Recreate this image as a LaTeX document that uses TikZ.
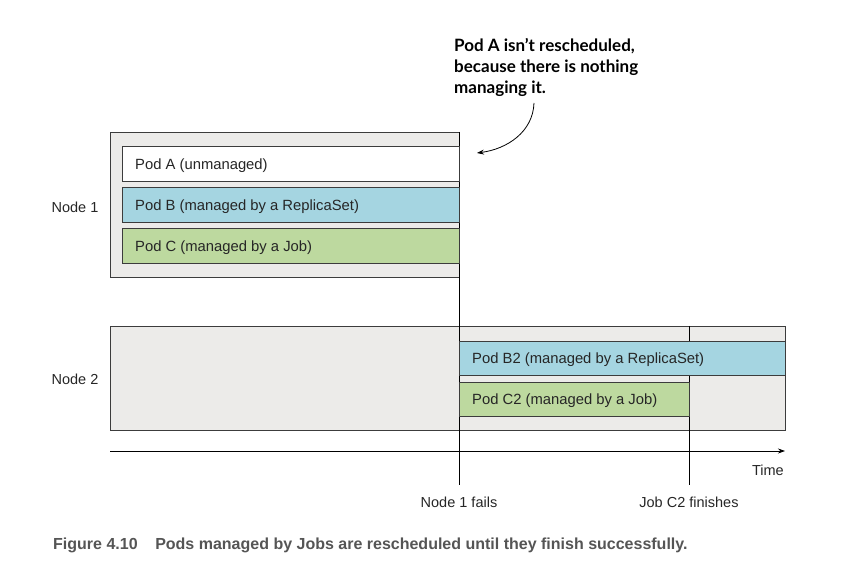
\documentclass[tikz,border=0pt]{standalone}
\usepackage{fontspec}
\setmainfont{Liberation Sans}
\newfontfamily\notefont{Lato}
\usetikzlibrary{arrows.meta}
\definecolor{boxgray}{RGB}{236,235,233}
\definecolor{linegray}{RGB}{60,60,60}
\definecolor{podblue}{RGB}{165,213,225}
\definecolor{podgreen}{RGB}{189,217,159}
\definecolor{capgray}{RGB}{85,85,85}
\tikzset{
  hostbox/.style={draw=linegray, line width=0.8pt, fill=boxgray, inner sep=0pt, anchor=north west},
  podbox/.style={draw=linegray, line width=0.8pt, inner sep=0pt, anchor=north west, minimum height=35pt},
  podtext/.style={anchor=west, font=\fontsize{14.8}{17}\selectfont, inner sep=0pt, text=black!85, yshift=-1.5pt},
  lbl/.style={font=\fontsize{14.5}{17}\selectfont, inner sep=0pt, text=black!85},
  vline/.style={draw=black, line width=0.8pt},
}
\begin{document}
\begin{tikzpicture}[x=1pt,y=-1pt]
\useasboundingbox (0,0) rectangle (847,569);
% hosts
\node[hostbox, minimum width=349pt, minimum height=145pt] (n1) at (110,132) {};
\node[hostbox, minimum width=675pt, minimum height=104pt] (n2) at (110,326) {};
% vertical event lines (behind pods)
\coordinate (f1top) at (459,132);
\coordinate (f1bot) at (459,485);
\coordinate (f2top) at (689,326);
\coordinate (f2bot) at (689,485);
\draw[vline] (f1top) -- (f1bot);
\draw[vline] (f2top) -- (f2bot);
% Node 1 pods
\node[podbox, fill=white, minimum width=337pt] (pa) at (122,146) {};
\node[podbox, fill=podblue, minimum width=337pt] (pb) at (122,187) {};
\node[podbox, fill=podgreen, minimum width=337pt] (pc) at (122,228) {};
\node[podtext] (tpa) at ([xshift=13pt]pa.west) {Pod A (unmanaged)};
\node[podtext] (tpb) at ([xshift=13pt]pb.west) {Pod B (managed by a ReplicaSet)};
\node[podtext] (tpc) at ([xshift=13pt]pc.west) {Pod C (managed by a Job)};
\node[lbl] (l1) at (75,207) {Node 1};
% Node 2 pods
\node[podbox, fill=podblue, minimum width=326pt, minimum height=34pt] (pb2) at (459,341) {};
\node[podbox, fill=podgreen, minimum width=230pt, minimum height=34pt] (pc2) at (459,382) {};
\node[podtext] (tpb2) at ([xshift=13pt]pb2.west) {Pod B2 (managed by a ReplicaSet)};
\node[podtext] (tpc2) at ([xshift=13pt]pc2.west) {Pod C2 (managed by a Job)};
\node[lbl] (l2) at (75,379) {Node 2};
% time axis
\coordinate (t0) at (110,451);
\coordinate (t1) at (785,451);
\draw[line width=0.8pt, -{Stealth[length=7pt,width=5pt]}] (t0) -- (t1);
\node[lbl, anchor=east] (time) at (784,470) {Time};
\node[lbl] (ev1) at (459,502) {Node 1 fails};
\node[lbl] (ev2) at (689,502) {Job C2 finishes};
% annotation
\node[anchor=north west, align=left, inner sep=0pt, font=\notefont\bfseries\fontsize{17}{21}\selectfont] (note) at (454,38) {Pod A isn’t rescheduled,\\because there is nothing\\managing it.};
\coordinate (as) at (534,103);
\coordinate (ae) at (477,153);
\draw[line width=0.8pt, -{Stealth[length=7pt,width=5pt]}] (as) .. controls (533,132) and (507,149) .. (ae);
% caption
\node[anchor=west, inner sep=0pt, text=capgray] (cap) at (53,545) {\bfseries\fontsize{16}{18}\selectfont Figure 4.10\hspace{1.1em}Pods managed by Jobs are rescheduled until they finish successfully.};
\end{tikzpicture}
\end{document}
